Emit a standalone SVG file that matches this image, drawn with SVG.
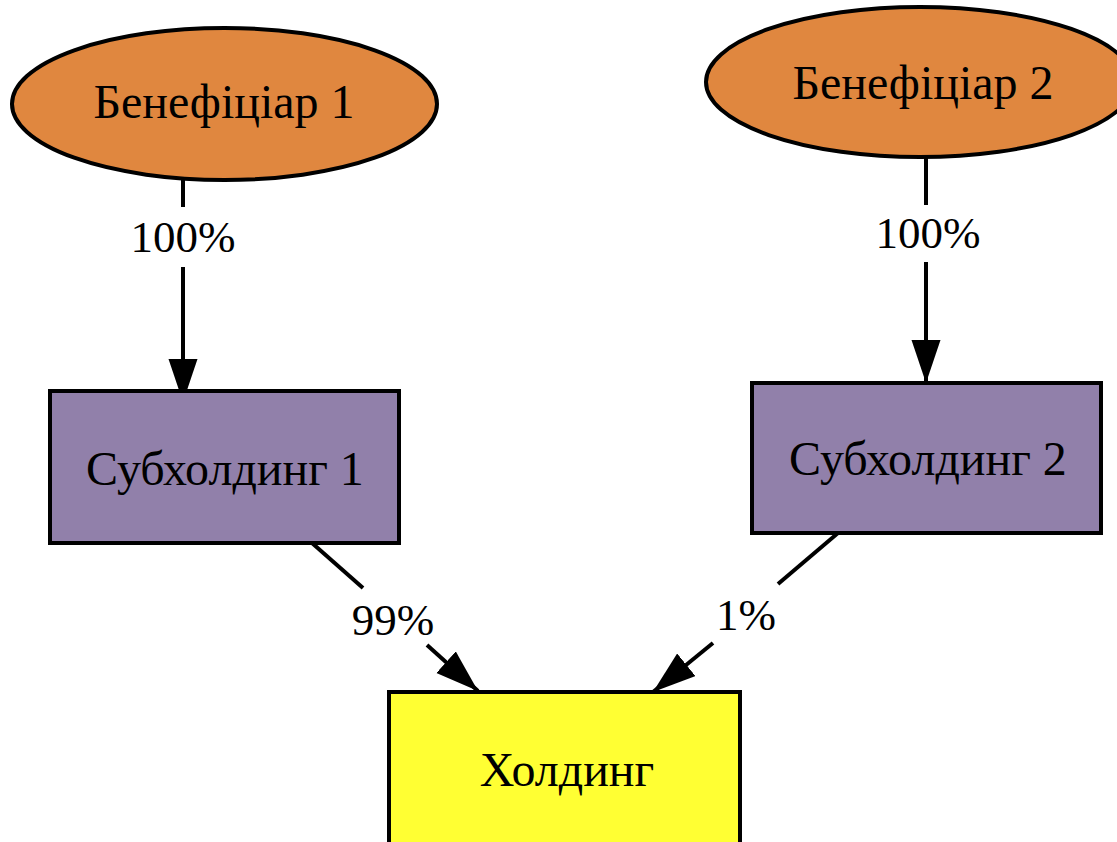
<svg xmlns="http://www.w3.org/2000/svg" width="1117" height="842" viewBox="0 0 1117 842">
<style>
.lbl{font-family:"Liberation Serif","Times New Roman",serif;font-size:45px;fill:#000;text-anchor:middle}
.node{font-size:48px}
.ell{fill:#E0873F;stroke:#000;stroke-width:4}
.sub{fill:#9180AA;stroke:#000;stroke-width:4}
.hold{fill:#FFFF33;stroke:#000;stroke-width:4}
.edge{stroke:#000;stroke-width:4;fill:none}
</style>
<defs>
<marker id="arr" markerUnits="userSpaceOnUse" markerWidth="44" markerHeight="30" refX="43" refY="14.5" orient="auto" viewBox="0 0 44 30">
<path d="M0,0 L43,14.5 L0,29 z" fill="#000"/>
</marker>
</defs>
<rect width="1117" height="842" fill="#fff"/>
<g id="connectors">
<line class="edge" x1="183" y1="180" x2="183" y2="207"/>
<line class="edge" x1="183" y1="267" x2="183" y2="402" marker-end="url(#arr)"/>
<text class="lbl" x="183" y="252">100%</text>
<line class="edge" x1="926" y1="157" x2="926" y2="205"/>
<line class="edge" x1="926" y1="262" x2="926" y2="383" marker-end="url(#arr)"/>
<text class="lbl" x="928" y="248">100%</text>
<line class="edge" x1="312" y1="543" x2="363" y2="588"/>
<line class="edge" x1="427" y1="645" x2="478" y2="691" marker-end="url(#arr)"/>
<text class="lbl" x="393" y="635">99%</text>
<line class="edge" x1="838" y1="533" x2="778" y2="584"/>
<line class="edge" x1="713" y1="643" x2="653" y2="692" marker-end="url(#arr)"/>
<text class="lbl" x="746" y="630">1%</text>
</g>
<g id="ben1">
<ellipse class="ell" cx="224.5" cy="104" rx="212.5" ry="76"/>
<text class="lbl node" x="224" y="118">Бенефіціар 1</text>
</g>
<g id="ben2">
<ellipse class="ell" cx="920" cy="82" rx="214" ry="75"/>
<text class="lbl node" x="923" y="99">Бенефіціар 2</text>
</g>
<g id="sub1">
<rect class="sub" x="50" y="391" width="349" height="152"/>
<text class="lbl node" x="225" y="485">Субхолдинг 1</text>
</g>
<g id="sub2">
<rect class="sub" x="752" y="383" width="349" height="150"/>
<text class="lbl node" x="928" y="475">Субхолдинг 2</text>
</g>
<g id="hold">
<rect class="hold" x="389" y="692" width="351" height="170"/>
<text class="lbl node" x="567" y="786">Холдинг</text>
</g>
</svg>
